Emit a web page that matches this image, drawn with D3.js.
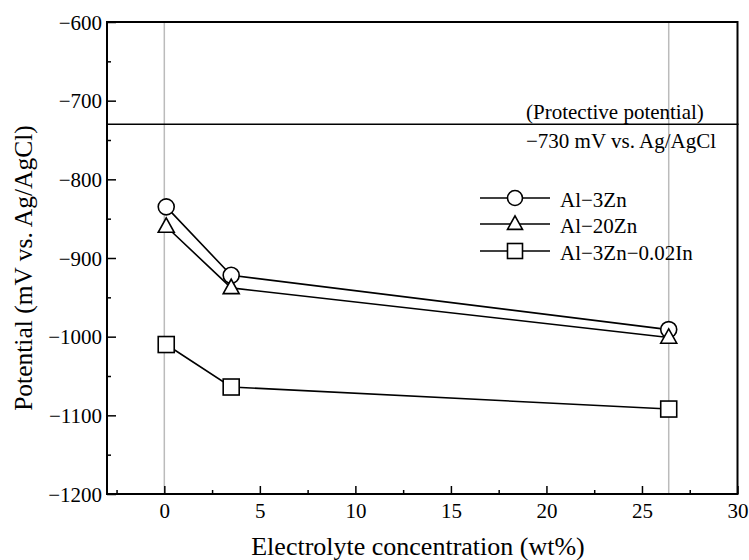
<!DOCTYPE html>
<html><head><meta charset="utf-8">
<script src="https://cdn.jsdelivr.net/npm/d3@7"></script>
<style>body{margin:0;background:#fff}svg{display:block}</style>
</head><body><svg id="c" width="749" height="560"></svg>
<script>
const concentration = [0.1, 3.5, 26.4];
const al3Zn = [-835, -922, -991];
const al20Zn = [-860, -938, -1001];
const al3ZnIn = [-1010, -1064, -1092];
const seriesNames = ["Al\u22123Zn", "Al\u221220Zn", "Al\u22123Zn\u22120.02In"];
const xTicks = [0, 5, 10, 15, 20, 25, 30];
const yTicks = [-1200, -1100, -1000, -900, -800, -700, -600];
const protective = -730;
const refLines = [0, 26.4];

const FONT = "'Liberation Serif', 'Times New Roman', Times, serif";
const svg = d3.select("#c");
const L = 107, R = 737.5, T = 22, B = 494;
const x = d3.scaleLinear().domain([-3, 30]).range([L, R]);
const y = d3.scaleLinear().domain([-1200, -600]).range([B, T]);
const minus = v => String(v).replace("-", "\u2212");

svg.selectAll(".ref").data(refLines).enter().append("line")
  .attr("x1", d => x(d)).attr("x2", d => x(d)).attr("y1", T).attr("y2", B)
  .attr("stroke", "#bbb").attr("stroke-width", 1.5);

svg.append("line").attr("x1", L).attr("x2", R + 1).attr("y1", y(protective)).attr("y2", y(protective))
  .attr("stroke", "#000").attr("stroke-width", 1.5);

const xMinor = d3.range(-2.5, 30, 5);
const yMinor = d3.range(-1150, -600, 100);
const gx = svg.append("g").attr("transform", `translate(0,${B})`)
  .call(d3.axisBottom(x).tickValues(xTicks).tickSize(-8).tickPadding(9).tickFormat(d => minus(d)));
const gx2 = svg.append("g").attr("transform", `translate(0,${B})`)
  .call(d3.axisBottom(x).tickValues(xMinor).tickSize(-4).tickFormat(""));
const gy = svg.append("g").attr("transform", `translate(${L},0)`)
  .call(d3.axisLeft(y).tickValues(yTicks).tickSize(-9).tickPadding(5).tickFormat(d => minus(d)));
const gy2 = svg.append("g").attr("transform", `translate(${L},0)`)
  .call(d3.axisLeft(y).tickValues(yMinor).tickSize(-4).tickFormat(""));
[gx, gx2, gy, gy2].forEach(g => {
  g.attr("font-family", null).attr("font-size", null);
  g.select(".domain").remove();
  g.selectAll(".tick line").attr("stroke", "#000").attr("stroke-width", 1.5);
  g.selectAll("text").style("font-family", FONT).style("font-size", "21px").attr("fill", "#000");
});
gy.selectAll("text").attr("dy", "0.34em");

svg.append("rect").attr("x", L).attr("y", T).attr("width", R - L).attr("height", B - T)
  .attr("fill", "none").attr("stroke", "#000").attr("stroke-width", 2);

const series = [al3Zn, al20Zn, al3ZnIn];
const shapes = ["circle", "triangle", "square"];
const line = d3.line().x((d, i) => x(concentration[i])).y(d => y(d));
function marker(g, shape, cx, cy, s) {
  if (shape === "circle") g.append("circle").attr("cx", cx).attr("cy", cy).attr("r", s / 2);
  else if (shape === "square") g.append("rect").attr("x", cx - s / 2).attr("y", cy - s / 2).attr("width", s).attr("height", s);
  else { const h = s * 0.9; g.append("path").attr("d", `M${cx},${cy - h * 0.6}L${cx + s / 2},${cy + h * 0.4}L${cx - s / 2},${cy + h * 0.4}Z`); }
}
series.forEach((vals, k) => {
  svg.append("path").attr("d", line(vals)).attr("fill", "none").attr("stroke", "#000").attr("stroke-width", 1.6);
  const g = svg.append("g").attr("fill", "#fff").attr("stroke", "#000").attr("stroke-width", 1.6);
  vals.forEach((v, i) => marker(g, shapes[k], x(concentration[i]), y(v), 16));
});

const txt = (xx, yy, s, size) => svg.append("text").attr("x", xx).attr("y", yy)
  .style("font-family", FONT).style("font-size", size + "px").attr("fill", "#000").text(s);

const legY = [198, 224, 251];
seriesNames.forEach((n, k) => {
  svg.append("line").attr("x1", 480).attr("x2", 550).attr("y1", legY[k]).attr("y2", legY[k])
    .attr("stroke", "#000").attr("stroke-width", 1.5);
  const g = svg.append("g").attr("fill", "#fff").attr("stroke", "#000").attr("stroke-width", 1.6);
  marker(g, shapes[k], 515, legY[k], 15);
  txt(560, legY[k] + 9, n, 21);
});

txt(526, 119, "(Protective potential)", 21);
txt(526, 148, "\u2212730 mV vs. Ag/AgCl", 21);

txt(418, 555, "Electrolyte concentration (wt%)", 26).attr("text-anchor", "middle");
txt(0, 0, "Potential (mV vs. Ag/AgCl)", 25.5).attr("text-anchor", "middle")
  .attr("transform", `translate(32,268) rotate(-90)`);
</script></body></html>
